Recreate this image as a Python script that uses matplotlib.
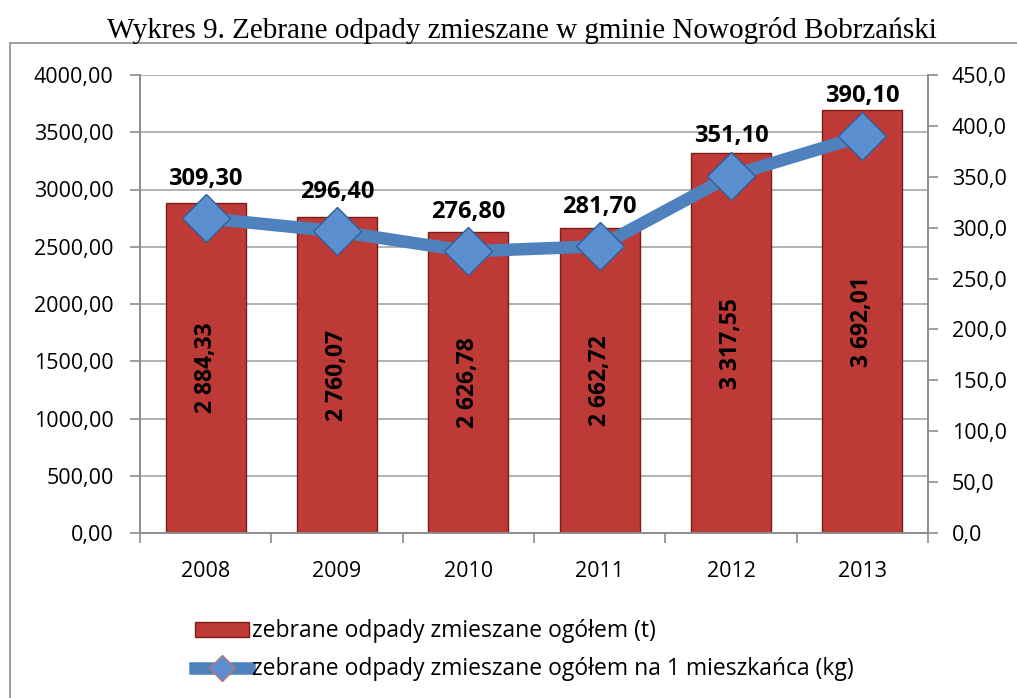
import matplotlib
matplotlib.use("Agg")
from matplotlib import pyplot as plt
import matplotlib.patches as mpatches
from matplotlib.lines import Line2D
import numpy as np

years = ["2008", "2009", "2010", "2011", "2012", "2013"]
total_t = [2884.33, 2760.07, 2626.78, 2662.72, 3317.55, 3692.01]
per_capita_kg = [309.30, 296.40, 276.80, 281.70, 351.10, 390.10]

bar_label = "zebrane odpady zmieszane ogółem (t)"
line_label = "zebrane odpady zmieszane ogółem na 1 mieszkańca (kg)"
title = "Wykres 9. Zebrane odpady zmieszane w gminie Nowogród Bobrzański"

plt.rcParams['font.family'] = ['Open Sans', 'DejaVu Sans']


def pl(v, d):
    s = f"{v:,.{d}f}".replace(",", " ").replace(".", ",")
    return s


fig = plt.figure(figsize=(10.17, 6.98), dpi=100)

# outer chart frame
fig.patches.append(mpatches.Rectangle((10 / 1017, -0.1), 1.2, 1 - 43 / 698 + 0.1,
                                      transform=fig.transFigure, fill=False,
                                      edgecolor='#8c8c8c', lw=1.2))

fig.text(522 / 1017, 1 - 30 / 698, title, ha='center', va='center',
         family='Liberation Serif', fontsize=21)

ax = fig.add_axes([140 / 1017, 1 - 533 / 698, (928 - 140) / 1017, (533 - 75) / 698])
ax2 = ax.twinx()

x = np.arange(len(years))
bars = ax.bar(x, total_t, width=0.61, color='#BE3A36', edgecolor='#7a1d1a', lw=1, zorder=2)
ax.set_xlim(-0.5, len(years) - 0.5)
ax.set_ylim(0, 4000)
ax.set_yticks(np.arange(0, 4001, 500))
ax.set_yticklabels([pl(v, 2).replace(" ", "") for v in np.arange(0, 4001, 500)])
ax.grid(axis='y', color='#a6a6a6', lw=1.2, zorder=0)
ax.set_axisbelow(True)
ax.set_xticks(x)
ax.set_xticklabels(years)
ax.set_xticks(np.arange(-0.5, len(years)), minor=True)
ax.tick_params(axis='x', which='major', length=0, pad=20, labelsize=15.5)
ax.tick_params(axis='x', which='minor', length=7, color='#8c8c8c', width=1.2)
ax.tick_params(axis='y', length=7, color='#8c8c8c', width=1.2, labelsize=15.5, pad=12)
for s in ['top']:
    ax.spines[s].set_visible(False)
    ax2.spines[s].set_visible(False)
for a in (ax, ax2):
    for s in ['left', 'right', 'bottom']:
        a.spines[s].set_color('#8c8c8c')
        a.spines[s].set_linewidth(1.2)

for xi, v in zip(x, total_t):
    ax.text(xi, v / 2, pl(v, 2), rotation=90, ha='center', va='center',
            fontsize=16.5, fontweight='bold', color='black', zorder=3)

ax2.plot(x, per_capita_kg, color='#4F81BD', lw=9, marker='D', ms=24,
         markerfacecolor='#5B8FD0', markeredgecolor='#2f5f96', mew=1, zorder=4)
ax2.set_ylim(0, 450)
ax2.set_yticks(np.arange(0, 451, 50))
ax2.set_yticklabels([pl(v, 1) for v in np.arange(0, 451, 50)])
ax2.tick_params(axis='y', length=7, color='#8c8c8c', width=1.2, labelsize=15.5, pad=10)
for xi, v in zip(x, per_capita_kg):
    ax2.text(xi, v + 27, pl(v, 2), ha='center', va='bottom',
             fontsize=17, fontweight='bold', color='black')

handles = [mpatches.Patch(facecolor='#BE3A36', edgecolor='#7a1d1a', label=bar_label),
           Line2D([], [], color='#4F81BD', lw=9, marker='D', ms=13,
                  markerfacecolor='#5B8FD0', markeredgecolor='#c07070', label=line_label)]
fig.legend(handles=handles, loc='upper left', bbox_to_anchor=(184 / 1017, 1 - 608 / 698),
           frameon=False, fontsize=16.5, handlelength=2.35, handleheight=0.6,
           handletextpad=0.1, labelspacing=0.6, borderpad=0)

fig.savefig("out.png", dpi=100)
